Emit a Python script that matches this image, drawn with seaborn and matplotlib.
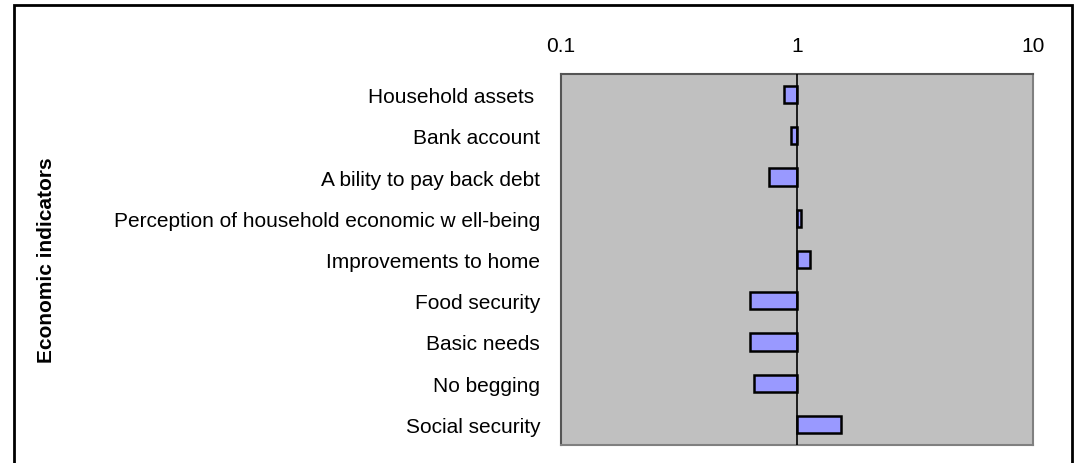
import matplotlib
matplotlib.use("Agg")
import matplotlib.pyplot as plt
import matplotlib.patches as mpatches
import seaborn as sns
import pandas as pd

categories = [
    "Household assets ",
    "Bank account",
    "A bility to pay back debt",
    "Perception of household economic w ell-being",
    "Improvements to home",
    "Food security",
    "Basic needs",
    "No begging",
    "Social security",
]
values = [0.88, 0.94, 0.76, 1.04, 1.13, 0.635, 0.635, 0.66, 1.54]
tick_values = [0.1, 1, 10]
tick_labels = ["0.1", "1", "10"]

sns.set_theme(style="white")
plt.rcParams["font.family"] = ["Liberation Sans", "DejaVu Sans"]
plt.rcParams["text.color"] = "black"

df = pd.DataFrame({"indicator": categories, "ratio": values})

fig = plt.figure(figsize=(10.8, 4.64), dpi=100)
ax = fig.add_axes([561 / 1080, 1 - 446 / 464, (1033 - 561) / 1080, (446 - 75) / 464])
ax.set_xscale("log")

sns.barplot(data=df, x="ratio", y="indicator", orient="h", color="#9999FF",
            saturation=1, width=0.42, edgecolor="black", linewidth=1.8, ax=ax)

# bars grow from the reference value 1 on the log axis
for patch, v in zip(ax.patches, values):
    patch.set_x(min(1.0, v))
    patch.set_width(abs(v - 1.0))
    patch.set_facecolor("#9999FF")

ax.axvline(1, color="black", linewidth=1.2, zorder=3)
ax.set_xlim(0.1, 10)
ax.set_ylim(8.5, -0.5)
ax.set_facecolor("#C0C0C0")
ax.set_xticks(tick_values)
ax.set_xticklabels(tick_labels)
ax.minorticks_off()
ax.xaxis.set_ticks_position("top")
ax.tick_params(axis="x", length=0, pad=14, labelsize=15, colors="black",
               top=True, bottom=False, labeltop=True, labelbottom=False)
ax.tick_params(axis="y", length=0, pad=15, labelsize=15, colors="black")
ax.set_xlabel("")
ax.set_ylabel("Economic indicators", fontsize=15, fontweight="bold", color="black", labelpad=0)
ax.yaxis.set_label_coords(-(561 - 56) / (1033 - 561), 0.5)
for s in ax.spines.values():
    s.set_visible(True)
    s.set_color("#808080")
    s.set_linewidth(1.5)
ax.spines["top"].set_color("#555555")
ax.spines["left"].set_color("#555555")

border = mpatches.Rectangle((14 / 1080, -0.02), (1072 - 14) / 1080, (464 - 6) / 464 + 0.02,
                            transform=fig.transFigure, fill=False, edgecolor="black",
                            linewidth=2, clip_on=False)
fig.patches.append(border)

fig.savefig("out.png", dpi=100)
